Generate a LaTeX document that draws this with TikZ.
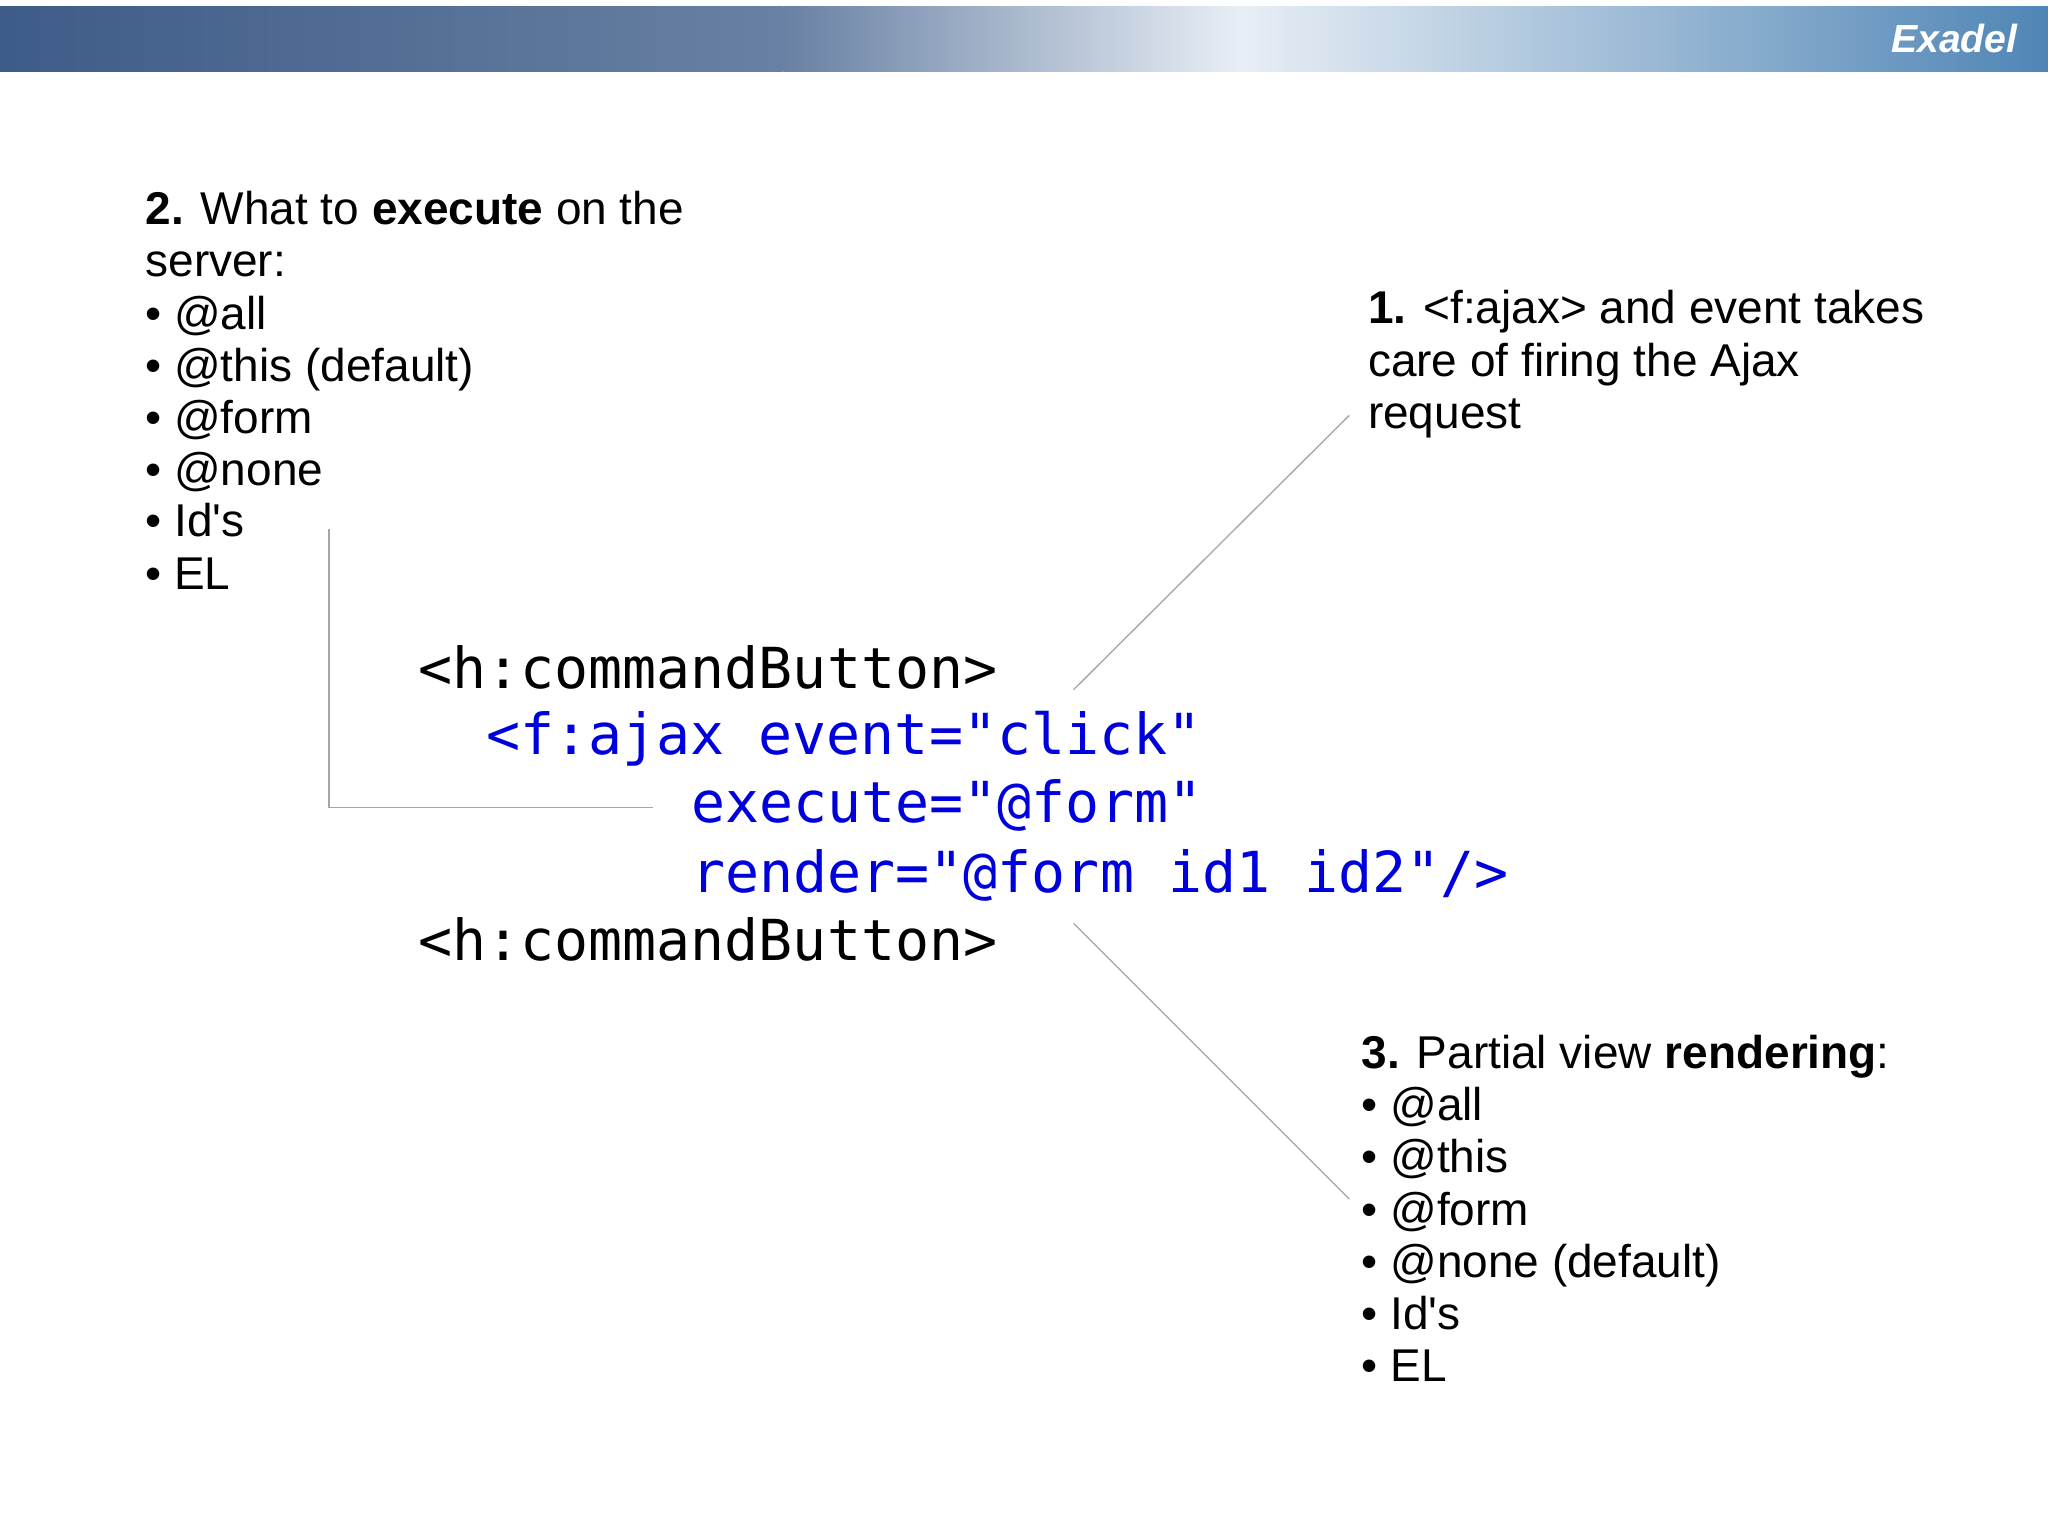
\documentclass[tikz,border=0pt]{standalone}
\usepackage{fontspec}
\setmainfont{Liberation Sans}
\newfontfamily\codefont{DejaVu Sans Mono}
\definecolor{codeblue}{HTML}{0000DD}
\definecolor{bardark}{HTML}{3E5C88}
\definecolor{barmid}{HTML}{E8EEF5}
\definecolor{barright}{HTML}{4F85B5}
\begin{document}
\begin{tikzpicture}[x=0.5pt,y=-0.5pt,
  txt/.style={anchor=base west,inner sep=0pt,font=\fontsize{17.6}{20}\selectfont},
  code/.style={anchor=base west,inner sep=0pt,font=\codefont\fontsize{21.65}{26}\selectfont},
  lead/.style={draw=gray!70,line width=0.5pt}]
\useasboundingbox (0,0) rectangle (1568,1175);
\fill[white] (0,0) rectangle (1568,1175);
\shade[left color=bardark,right color=bardark!75!barmid] (0,5) rectangle (600,55);
\shade[left color=bardark!75!barmid,right color=barmid] (600,5) rectangle (950,55);
\shade[left color=barmid,right color=barright] (950,5) rectangle (1568,55);
\node[anchor=base east,inner sep=0pt,text=white,font=\bfseries\itshape\fontsize{15}{18}\selectfont] (ex) at (1545,40) {Exadel};
% block 2
\node[txt] (a1) at (111,172) {\textbf{2.} What to \textbf{execute} on the};
\node[txt] (a2) at (111,212) {server:};
\node[txt] (a3) at (111,252) {• @all};
\node[txt] (a4) at (111,292) {• @this (default)};
\node[txt] (a5) at (111,332) {• @form};
\node[txt] (a6) at (111,372) {• @none};
\node[txt] (a7) at (111,411) {• Id\textquotesingle s};
\node[txt] (a8) at (111,451) {• EL};
% block 1
\node[txt] (b1) at (1047,248) {\textbf{1.} <f:ajax> and event takes};
\node[txt] (b2) at (1047,288) {care of firing the Ajax};
\node[txt] (b3) at (1047,328) {request};
% block 3
\node[txt] (c1) at (1042,818) {\textbf{3.} Partial view \textbf{rendering}:};
\node[txt] (c2) at (1042,858) {• @all};
\node[txt] (c3) at (1042,898) {• @this};
\node[txt] (c4) at (1042,938) {• @form};
\node[txt] (c5) at (1042,978) {• @none (default)};
\node[txt] (c6) at (1042,1018) {• Id\textquotesingle s};
\node[txt] (c7) at (1042,1058) {• EL};
% code
\node[code] (k1) at (320,527) {<h:commandButton>};
\node[code,text=codeblue] (k2) at (372,578) {<f:ajax event="click"};
\node[code,text=codeblue] (k3) at (529,630) {execute="@form"};
\node[code,text=codeblue] (k4) at (529,683) {render="@form id1 id2"/>};
\node[code] (k5) at (320,735) {<h:commandButton>};
% leaders
\coordinate (p1) at (252,405);
\coordinate (p2) at (252,618);
\coordinate (p3) at (500,618);
\draw[lead] (p1) -- (p2) -- (p3);
\coordinate (q1) at (822,528);
\coordinate (q2) at (1033,318);
\draw[lead] (q1) -- (q2);
\coordinate (r1) at (822,707);
\coordinate (r2) at (1033,918);
\draw[lead] (r1) -- (r2);
\end{tikzpicture}
\end{document}
